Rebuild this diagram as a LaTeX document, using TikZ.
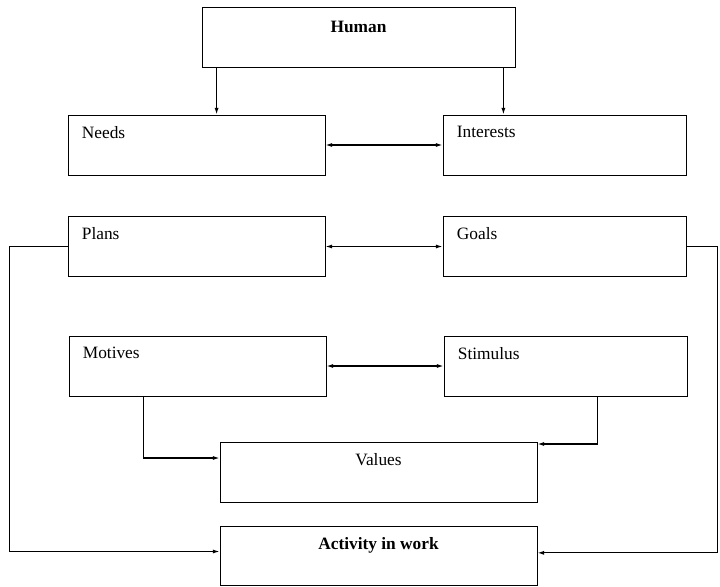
\documentclass[tikz,border=0pt]{standalone}
\usepackage{fontspec}
\setmainfont{Liberation Serif}
\usetikzlibrary{arrows.meta}
\tikzset{
  box/.style={draw, line width=0.6pt, minimum width=#1, minimum height=45pt, inner sep=0pt},
  lbl/.style={inner sep=0pt, font=\fontsize{13}{15}\selectfont},
  txtleft/.style={label={[lbl, anchor=north west, xshift=10.5pt, yshift=-8.5pt]north west:#1}},
  txtmid/.style={label={[lbl, anchor=north, yshift=-8.5pt]north:\textbf{#1}}},
  arr/.style={line width=0.9pt, -{Latex[length=5pt,width=3pt]}},
  dbl/.style={line width=0.9pt, {Latex[length=5pt,width=3pt]}-{Latex[length=5pt,width=3pt]}},
}
\begin{document}
\begin{tikzpicture}[x=0.75pt,y=0.75pt,yscale=-1,xscale=1]
            \useasboundingbox (0,0) rectangle (720,586);
            % Boxes
            \node [box=234.75pt, label={[lbl, anchor=north, yshift=-10.5pt]north:\textbf{Human}}] (human) at (358.5,37) {};
            \node [box=192.75pt, txtleft=Needs] (needs) at (196.5,145) {};
            \node [box=182.25pt, txtleft=Interests] (interests) at (564.5,145) {};
            \node [box=192.75pt, txtleft=Plans] (plans) at (196.5,246.5) {};
            \node [box=182.25pt, txtleft=Goals] (goals) at (564.5,246.5) {};
            \node [box=192.75pt, txtleft=Motives] (motives) at (197.5,366) {};
            \node [box=182.25pt, txtleft=Stimulus] (stimulus) at (565.5,366) {};
            \node [box=237.75pt, label={[lbl, anchor=north, yshift=-8.5pt]north:Values}] (values) at (378.5,472) {};
            \node [box=237.75pt, minimum height=44.25pt, txtmid=Activity in work] (activity) at (378.5,555.5) {};

            % Human to needs and interests
            \draw [arr] ([xshift=11.25pt]human.south west) -- ([xshift=11.25pt]human.south west |- needs.north);
            \draw [arr] ([xshift=-9pt]human.south east) -- ([xshift=-9pt]human.south east |- interests.north);
            % Pairs
            \draw [dbl] (needs.east) -- (interests.west);
            \draw [dbl] (plans.east) -- (goals.west);
            \draw [dbl] (motives.east) -- (stimulus.west);
            % To values
            \draw [arr] ([xshift=56.25pt]motives.south west) |- ([yshift=-10.5pt]values.west);
            \draw [arr] ([xshift=115.5pt]stimulus.south west) |- ([yshift=-21pt]values.east);
            % To activity
            \draw [arr] (plans.west) -- ++(-58,0) |- ([yshift=-3pt]activity.west);
            \draw [arr] (goals.east) -- ++(31,0) |- ([yshift=-2pt]activity.east);
        \end{tikzpicture}
\end{document}
